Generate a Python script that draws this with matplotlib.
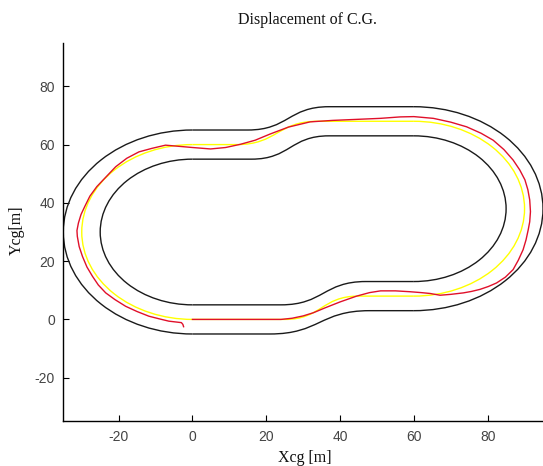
import matplotlib
matplotlib.use("Agg")
import matplotlib.pyplot as plt
from matplotlib.patches import Arc, PathPatch
from matplotlib.path import Path

plt.rcParams["axes.unicode_minus"] = False

# track layout in metres
left_center = (0, 30)
right_center = (60, 38)
radius = {"outer": 35, "mid": 30, "inner": 25}
# x where the s-bend on each side starts and ends
bottom_bend = {"outer": (21, 48), "mid": (25, 45), "inner": (24, 47)}
top_bend = {"outer": (37, 15), "mid": (34, 12), "inner": (37, 16)}

# path of the C.G. (red)
cg_x = [0, 12, 24, 27, 30, 32.8, 36, 40, 44.5, 48, 51, 55, 59, 62, 64.4, 67.1,
        70, 73.4, 75.6, 77.9, 80.2, 82.4, 84.8, 86.9, 88.3, 89.6, 90.4, 91.0,
        91.4, 91.6, 91.4, 90.9, 90.1, 88.7, 86.9, 84.4, 81.5, 78.2, 74.3, 70,
        65.3, 60, 56.3, 50.9, 45.4, 38, 31.9, 26, 21, 17, 13, 9, 4.9, 0,
        -7.3, -11, -14.5, -17.8, -20.8, -23.2, -25.9, -27.8, -29.2, -30.2, -30.9,
        -31.3, -31.2, -30.7, -29.8, -28.6, -27.1, -25.5, -23.5, -21, -18.1,
        -15, -11.8, -9, -6.4, -3.0, -2.6, -2.4]
cg_y = [0, 0, 0, 0.4, 1.2, 2.3, 4.0, 6.0, 8.0, 9.2, 9.8, 9.8, 9.5, 9.2, 8.9, 8.3,
        8.6, 9.1, 9.6, 10.3, 11.3, 12.5, 14.5, 17.1, 20.3, 23.9, 27.3, 30.8,
        33.5, 37.0, 41.0, 44.5, 47.9, 51.3, 54.7, 58.3, 61.5, 63.9, 66.1, 67.7,
        69.0, 69.6, 69.5, 69.0, 68.7, 68.3, 67.8, 66.0, 63.6, 61.5, 60.1, 59.0,
        58.5, 59.0, 59.8, 58.7, 57.5, 55.3, 52.4, 49.2, 45.6, 42.3, 38.7, 36.0,
        33.1, 30.5, 28.5, 25.0, 21.6, 18.0, 14.8, 11.8, 9.1, 6.8, 4.5, 2.7,
        1.1, 0.2, -0.6, -1.1, -1.7, -2.5]

x_ticks = [-20, 0, 20, 40, 60, 80]
y_ticks = [-20, 0, 20, 40, 60, 80]

W, H = 543, 466
fig = plt.figure(figsize=(W / 100, H / 100), dpi=100)
ax = fig.add_axes([63.3 / W, 44.6 / H, 1 - 63.3 / W, 378.8 / H])


def bend(x0, y0, x1, y1):
    xm = (x0 + x1) / 2
    return [(xm, y0), (xm, y1), (x1, y1)]


for name, r in radius.items():
    col = "#ffff00" if name == "mid" else "#1a1a1a"
    ax.add_patch(Arc(left_center, 2 * r, 2 * r, theta1=90, theta2=270,
                     color=col, lw=1.0, zorder=2))
    ax.add_patch(Arc(right_center, 2 * r, 2 * r, theta1=-90, theta2=90,
                     color=col, lw=1.0, zorder=2))
    yb0, yb1 = left_center[1] - r, right_center[1] - r
    yt1, yt0 = right_center[1] + r, left_center[1] + r
    xa, xb = bottom_bend[name]
    xc, xd = top_bend[name]
    verts = [(left_center[0], yb0), (xa, yb0)] + bend(xa, yb0, xb, yb1) + [(right_center[0], yb1)]
    verts += [(right_center[0], yt1), (xc, yt1)] + bend(xc, yt1, xd, yt0) + [(left_center[0], yt0)]
    codes = [Path.MOVETO, Path.LINETO, Path.CURVE4, Path.CURVE4, Path.CURVE4, Path.LINETO] * 2
    ax.add_patch(PathPatch(Path(verts, codes), fill=False, edgecolor=col, lw=1.0, zorder=2))

ax.plot(cg_x, cg_y, color="#e0102a", lw=1.0, zorder=3, solid_joinstyle="round")

ax.set_xlim(-35, 95)
ax.set_ylim(-35, 95)
ax.set_xticks(x_ticks)
ax.set_yticks(y_ticks)
ax.spines["top"].set_visible(False)
ax.spines["right"].set_visible(False)
for s in ("left", "bottom"):
    ax.spines[s].set_linewidth(1.0)
ax.tick_params(direction="in", length=4.5, width=0.8, pad=6,
               labelsize=10, labelcolor="#444444")
for lab in ax.get_xticklabels() + ax.get_yticklabels():
    lab.set_family("Liberation Sans")

serif = dict(family="Liberation Serif", fontsize=11.5, color="#111111")
fig.text(307 / W, 1 - 23.5 / H, "Displacement of C.G.", ha="center", va="baseline", **serif)
fig.text(305 / W, 1 - 462.5 / H, "Xcg [m]", ha="center", va="baseline", **serif)
fig.text(17.3 / W, 1 - 230 / H, "Ycg[m]", ha="center", va="center", rotation=90, **serif)

fig.savefig("out.png", dpi=100)
